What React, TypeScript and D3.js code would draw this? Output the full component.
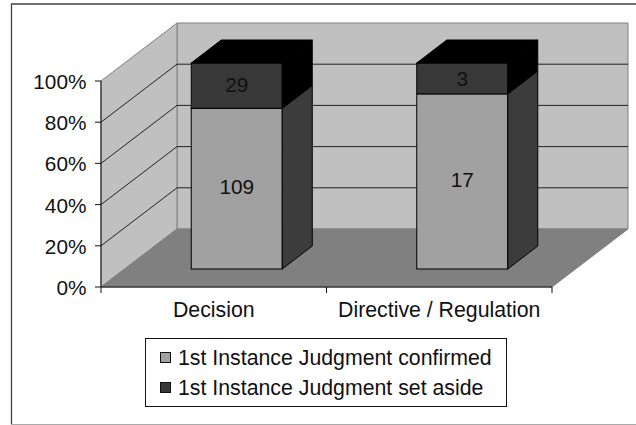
import React from "react";
import * as d3 from "d3";

const categories = ["Decision", "Directive / Regulation"];
const confirmed = [109, 17];
const setAside = [29, 3];
const confirmedShare = [78, 85];
const yTicks = [0, 20, 40, 60, 80, 100];
const seriesNames = ["1st Instance Judgment confirmed", "1st Instance Judgment set aside"];

const FONT = "'Liberation Sans', Arial, sans-serif";
const FS = 20.8;
const FS_WIDE = 21.3;
const LIGHT = "#a1a1a1";
const DARK = "#383838";
const SIDE = "#3c3c3c";
const WALL = "#c0c0c0";
const FLOOR = "#808080";

const y = d3.scaleLinear().domain([0, 100]).range([287, 81]);
const x = d3.scaleBand().domain(categories).range([101, 552]);
const wallDx = 76, wallDy = -58;
const barOffX = 23, barOffY = -18;
const barDepthX = 30, barDepthY = -23;
const barW = 91;

const poly = (pts: [number, number][]) => d3.line()(pts) + "Z";

export default function App() {
  const x0 = x.range()[0], x1 = x.range()[1];
  const yB = y(0), yT = y(100);
  return (
    <svg width={636} height={425} style={{ position: "absolute", left: 0, top: 0 }} fontFamily={FONT}>
      <rect width={636} height={425} fill="#fff" />
      <path d="M11.5,424.5V4H636" fill="none" stroke="#444" strokeWidth={1.3} />
      <path d="M11,424.5H636" fill="none" stroke="#aaa" strokeWidth={1} />
      {/* back and side walls */}
      <path d={poly([[x0 + wallDx, yT + wallDy], [x1 + wallDx, yT + wallDy], [x1 + wallDx, yB + wallDy], [x0 + wallDx, yB + wallDy]])} fill={WALL} stroke="#808080" />
      <path d={poly([[x0, yT], [x0 + wallDx, yT + wallDy], [x0 + wallDx, yB + wallDy], [x0, yB]])} fill={WALL} stroke="#808080" />
      <path d={poly([[x0, yB], [x0 + wallDx, yB + wallDy], [x1 + wallDx, yB + wallDy], [x1, yB]])} fill={FLOOR} stroke="#808080" />
      {/* gridlines */}
      {yTicks.filter((t) => t > 0 && t < 100).map((t) => (
        <path key={t} fill="none" stroke="#111" strokeWidth={0.9}
          d={`M${x0},${y(t)}L${x0 + wallDx},${y(t) + wallDy}H${x1 + wallDx}`} />
      ))}
      {/* axes */}
      <path d={`M${x0},${yT}V${yB}H${x1}`} fill="none" stroke="#111" strokeWidth={1} />
      {yTicks.map((t) => (
        <g key={t}>
          <line x1={x0 - 6} x2={x0} y1={y(t)} y2={y(t)} stroke="#111" />
          <text x={86.5} y={y(t) + 8} textAnchor="end" fontSize={FS} fill="#111">{t}%</text>
        </g>
      ))}
      {[x0, x0 + x.bandwidth(), x1].map((v) => (
        <line key={v} x1={v} x2={v} y1={yB} y2={yB + 6} stroke="#111" />
      ))}
      {categories.map((c) => (
        <text key={c} x={x(c)! + x.bandwidth() / 2} y={317} textAnchor="middle" fontSize={FS_WIDE} fill="#111">{c}</text>
      ))}
      {/* bars */}
      {categories.map((c, i) => {
        const l = x(c)! + x.bandwidth() / 2 + barOffX - barW / 2;
        const r = l + barW;
        const b = y(0) + barOffY, m = y(confirmedShare[i]) + barOffY, t = y(100) + barOffY;
        return (
          <g key={c} stroke="#000" strokeWidth={1}>
            <rect x={l} y={m} width={barW} height={b - m} fill={LIGHT} />
            <rect x={l} y={t} width={barW} height={m - t} fill={DARK} />
            <path d={poly([[r, b], [r + barDepthX, b + barDepthY], [r + barDepthX, m + barDepthY], [r, m]])} fill={SIDE} />
            <path d={poly([[r, m], [r + barDepthX, m + barDepthY], [r + barDepthX, t + barDepthY], [r, t]])} fill="#000000" />
            <path d={poly([[l, t], [l + barDepthX, t + barDepthY], [r + barDepthX, t + barDepthY], [r, t]])} fill="#000" />
            <text x={(l + r) / 2} y={(b + m) / 2 + 5.5} textAnchor="middle" fontSize={FS} stroke="none" fill="#111">{confirmed[i]}</text>
            <text x={(l + r) / 2} y={(m + t) / 2 + (m - t < 40 ? 8 : 6)} textAnchor="middle" fontSize={FS} stroke="none" fill="#111">{setAside[i]}</text>
          </g>
        );
      })}
      {/* legend */}
      <rect x={145.5} y={338.5} width={361} height={68} fill="#fff" stroke="#111" />
      {seriesNames.map((n, i) => (
        <g key={n}>
          <rect x={160.5} y={352.5 + i * 30} width={10} height={10} fill={i === 0 ? LIGHT : DARK} stroke="#111" />
          <text x={178} y={365 + i * 30} fontSize={FS_WIDE} fill="#111">{n}</text>
        </g>
      ))}
    </svg>
  );
}
